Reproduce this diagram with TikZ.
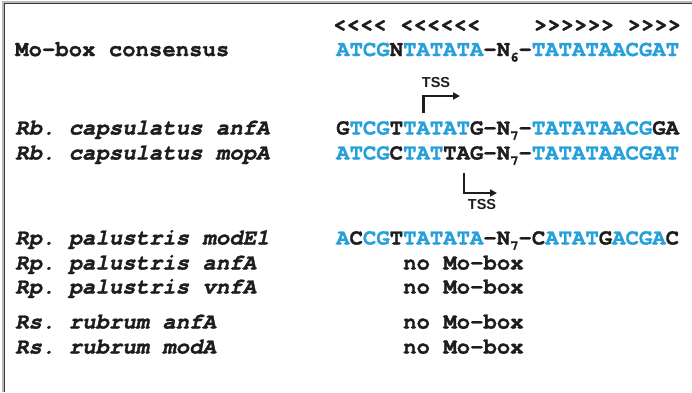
\documentclass[tikz,border=0pt]{standalone}
\usepackage{fontspec}
\setmonofont[BoldFeatures={FakeBold=1.2},BoldItalicFeatures={FakeBold=1.2}]{TeX Gyre Cursor}
\newfontfamily\tssfont{Liberation Sans}
\usetikzlibrary{arrows.meta}
\definecolor{seqblue}{RGB}{38,160,218}
\definecolor{ink}{RGB}{30,28,28}
\definecolor{framedark}{RGB}{55,55,55}
\definecolor{framelight}{RGB}{185,185,185}
\newcommand\Bl[1]{\textcolor{seqblue}{#1}}
\newcommand\Sub[1]{\raisebox{-0.25em}{\fontsize{14}{14}\selectfont #1}}
\begin{document}
\begin{tikzpicture}[x=1pt,y=-1pt,
  mono/.style={anchor=base west, inner sep=0pt, text=ink,
    font=\fontsize{22.3}{25}\selectfont\ttfamily\bfseries},
  species/.style={mono, font=\fontsize{22.3}{25}\selectfont\ttfamily\bfseries\itshape},
  tsslabel/.style={inner sep=0pt, text=ink, font=\fontsize{14.5}{14.5}\selectfont\tssfont\bfseries},
  tssarrow/.style={draw=ink, line width=2.2pt, -{Triangle[length=7pt,width=7pt]}}
]
\useasboundingbox (0,0) rectangle (692,392);
% frame
\draw[framelight, line width=3pt] (3,392) -- (3,2.5) -- (692,2.5);
\draw[framedark, line width=1.3pt] (4.5,392) -- (4.5,3.5) -- (692,3.5);

% header
\node[mono] (hdr) at (333,31) {<<<<~<<<<<<~~~~>>>>>>~>>>>};

% labels
\node[mono] (l0) at (15,56) {Mo-box consensus};
\node[species] (l1) at (15,134.5) {Rb. capsulatus anfA};
\node[species] (l2) at (15,159.5) {Rb. capsulatus mopA};
\node[species] (l3) at (15,244.5) {Rp. palustris modE1};
\node[species] (l4) at (15,269.5) {Rp. palustris anfA};
\node[species] (l5) at (15,293.5) {Rp. palustris vnfA};
\node[species] (l6) at (15,328.5) {Rs. rubrum anfA};
\node[species] (l7) at (15,353.5) {Rs. rubrum modA};

% sequences
\node[mono] (s0) at (336,56) {\Bl{ATCG}N\Bl{TATATA}–N\Sub{6}–\Bl{TATATAACGAT}};
\node[mono] (s1) at (336,134.5) {G\Bl{TCG}T\Bl{TATAT}G–N\Sub{7}–\Bl{TATATAACG}GA};
\node[mono] (s2) at (336,159.5) {\Bl{ATCG}C\Bl{TAT}TAG–N\Sub{7}–\Bl{TATATAACGAT}};
\node[mono] (s3) at (336,244.5) {\Bl{A}C\Bl{CG}T\Bl{TATATA}–N\Sub{7}–C\Bl{ATAT}G\Bl{ACGA}C};
\node[mono] (s4) at (403,269.5) {no Mo-box};
\node[mono] (s5) at (403,293.5) {no Mo-box};
\node[mono] (s6) at (403,328.5) {no Mo-box};
\node[mono] (s7) at (403,353.5) {no Mo-box};

% TSS marks
\node[tsslabel] (tss1) at (436,83) {TSS};
\node[tsslabel] (tss2) at (482,204) {TSS};
\coordinate (t1s) at (423.5,113);
\coordinate (t1e) at (460,96);
\coordinate (t2s) at (464,173);
\coordinate (t2e) at (497,193);
\draw[tssarrow] (t1s) |- (t1e);
\draw[tssarrow] (t2s) |- (t2e);
\end{tikzpicture}
\end{document}
